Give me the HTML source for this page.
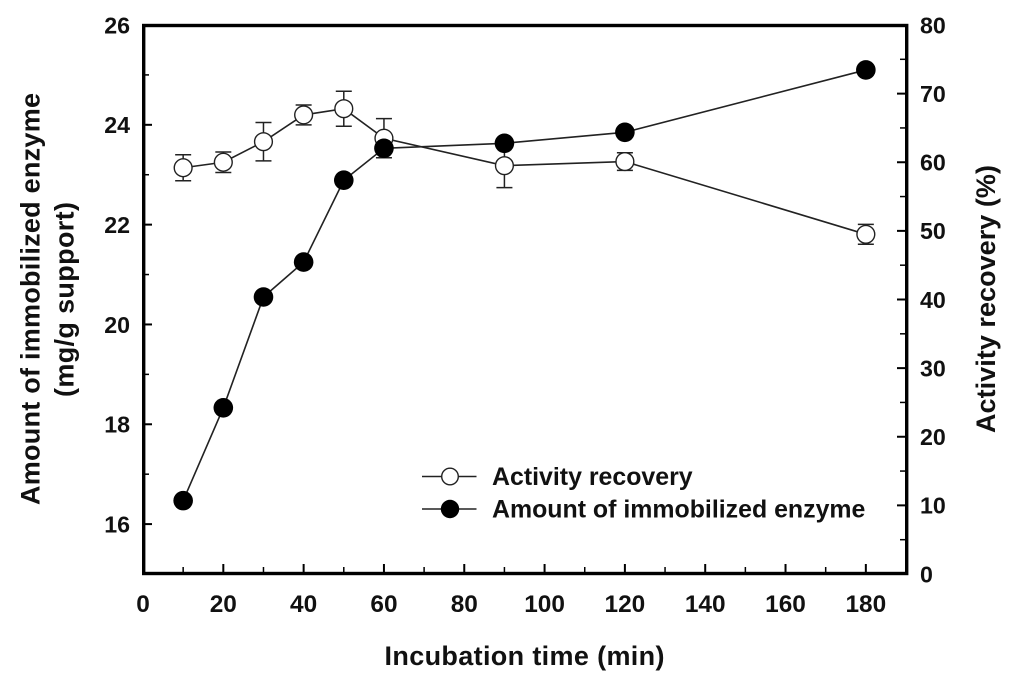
<!DOCTYPE html>
<html lang="en">
<head>
<meta charset="utf-8">
<title>Incubation time chart</title>
<style>
html,body{margin:0;padding:0;background:#fff;}
svg{display:block;filter:blur(0.35px);}
text{font-family:"Liberation Sans",Arial,sans-serif;font-weight:bold;fill:#111;}
</style>
</head>
<body>
<svg id="chart" xmlns="http://www.w3.org/2000/svg" width="1024" height="694" viewBox="0 0 1024 694"></svg>
<script>
const timePoints = [10, 20, 30, 40, 50, 60, 90, 120, 180];
const activityRecovery = [59.2, 60.0, 63.0, 66.9, 67.8, 63.5, 59.5, 60.1, 49.5];
const activityError = [1.9, 1.5, 2.8, 1.45, 2.55, 2.85, 3.2, 1.28, 1.45];
const immobilizedEnzyme = [16.47, 18.33, 20.55, 21.25, 22.89, 23.53, 23.63, 23.85, 25.1];
const xMajorTicks = [0, 20, 40, 60, 80, 100, 120, 140, 160, 180];
const xMinorTicks = [10, 30, 50, 70, 90, 110, 130, 150, 170];
const leftMajorTicks = [16, 18, 20, 22, 24, 26];
const leftMinorTicks = [17, 19, 21, 23, 25];
const rightMajorTicks = [0, 10, 20, 30, 40, 50, 60, 70, 80];
const rightMinorTicks = [5, 15, 25, 35, 45, 55, 65, 75];

const svg = document.getElementById('chart');
const NS = 'http://www.w3.org/2000/svg';
const plotLeft = 143, plotRight = 906, plotTop = 25, plotBottom = 574;
const xScale = v => plotLeft + (v / 190) * (plotRight - plotLeft);
const yLeft = v => plotBottom - ((v - 15) / 11) * (plotBottom - plotTop);
const yRight = v => plotBottom - (v / 80) * (plotBottom - plotTop);

function make(tag, attrs, parent) {
  const el = document.createElementNS(NS, tag);
  for (const k in attrs) el.setAttribute(k, attrs[k]);
  (parent || svg).appendChild(el);
  return el;
}
function group(name) {
  const g = make('g', {});
  
  
  return g;
}
function label(parent, x, y, str, anchor, size) {
  const t = make('text', {x: x, y: y, 'text-anchor': anchor, 'font-size': size}, parent);
  t.textContent = str;
  return t;
}

/* plot frame */
const frame = make('rect', {x: plotLeft + 0.7, y: plotTop + 0.5, width: plotRight - plotLeft, height: plotBottom - plotTop - 1, fill: 'none', stroke: '#000', 'stroke-width': 3.4});



/* x axis */
const xAxis = group('x-axis');
xMajorTicks.forEach(v => {
  make('line', {x1: xScale(v), x2: xScale(v), y1: plotBottom, y2: plotBottom - 10, stroke: '#000', 'stroke-width': 2}, xAxis);
  label(xAxis, xScale(v), 612, String(v), 'middle', 24.4);
});
xMinorTicks.forEach(v => {
  make('line', {x1: xScale(v), x2: xScale(v), y1: plotBottom, y2: plotBottom - 7, stroke: '#000', 'stroke-width': 1.5}, xAxis);
});

/* left axis */
const leftAxis = group('left-y-axis');
leftMajorTicks.forEach(v => {
  make('line', {x1: plotLeft, x2: plotLeft + 9, y1: yLeft(v), y2: yLeft(v), stroke: '#000', 'stroke-width': 2}, leftAxis);
  label(leftAxis, 130, yLeft(v) + 8.3, String(v), 'end', 23.2);
});
leftMinorTicks.forEach(v => {
  make('line', {x1: plotLeft, x2: plotLeft + 6, y1: yLeft(v), y2: yLeft(v), stroke: '#000', 'stroke-width': 1.5}, leftAxis);
});

/* right axis */
const rightAxis = group('right-y-axis');
rightMajorTicks.forEach(v => {
  make('line', {x1: plotRight, x2: plotRight - 9, y1: yRight(v), y2: yRight(v), stroke: '#000', 'stroke-width': 2}, rightAxis);
  label(rightAxis, 920, yRight(v) + 8.3, String(v), 'start', 23.2);
});
rightMinorTicks.forEach(v => {
  make('line', {x1: plotRight, x2: plotRight - 6, y1: yRight(v), y2: yRight(v), stroke: '#000', 'stroke-width': 1.5}, rightAxis);
});

/* activity series */
const actGroup = group('activity-recovery-series');
make('polyline', {points: timePoints.map((t, i) => xScale(t) + ',' + yRight(activityRecovery[i])).join(' '), fill: 'none', stroke: '#222', 'stroke-width': 1.6}, actGroup);
timePoints.forEach((t, i) => {
  const x = xScale(t), hi = yRight(activityRecovery[i] + activityError[i]), lo = yRight(activityRecovery[i] - activityError[i]);
  make('line', {x1: x, x2: x, y1: hi, y2: lo, stroke: '#222', 'stroke-width': 1.5}, actGroup);
  make('line', {x1: x - 8, x2: x + 8, y1: hi, y2: hi, stroke: '#222', 'stroke-width': 1.5}, actGroup);
  make('line', {x1: x - 8, x2: x + 8, y1: lo, y2: lo, stroke: '#222', 'stroke-width': 1.5}, actGroup);
  const pt = make('circle', {cx: x, cy: yRight(activityRecovery[i]), r: 8.9, fill: '#fff', stroke: '#222', 'stroke-width': 1.4}, actGroup);
  
  
});

/* enzyme series */
const enzGroup = group('immobilized-enzyme-series');
make('polyline', {points: timePoints.map((t, i) => xScale(t) + ',' + yLeft(immobilizedEnzyme[i])).join(' '), fill: 'none', stroke: '#222', 'stroke-width': 1.6}, enzGroup);
timePoints.forEach((t, i) => {
  const pt = make('circle', {cx: xScale(t), cy: yLeft(immobilizedEnzyme[i]), r: 9.8, fill: '#000'}, enzGroup);
  
  
});

/* axis titles */
const xTitle = label(svg, 524.5, 665, 'Incubation time (min)', 'middle', 27);
xTitle.setAttribute('textLength', '280');



const leftTitle1 = label(svg, 0, 0, 'Amount of immobilized enzyme', 'middle', 27);
leftTitle1.setAttribute('textLength', '412');
leftTitle1.setAttribute('transform', 'translate(39.5,299) rotate(-90)');



const leftTitle2 = label(svg, 0, 0, '(mg/g support)', 'middle', 27);
leftTitle2.setAttribute('textLength', '195');
leftTitle2.setAttribute('transform', 'translate(73.5,299.5) rotate(-90)');



const rightTitle = label(svg, 0, 0, 'Activity recovery (%)', 'middle', 27);
rightTitle.setAttribute('textLength', '268');
rightTitle.setAttribute('transform', 'translate(995,299) rotate(-90)');



/* legend */
const legend = group('legend');
const legendOne = make('g', {}, legend);


make('line', {x1: 422, x2: 476.5, y1: 476.5, y2: 476.5, stroke: '#222', 'stroke-width': 1.4}, legendOne);
make('circle', {cx: 450, cy: 476.5, r: 8.3, fill: '#fff', stroke: '#222', 'stroke-width': 1.4}, legendOne);
label(legendOne, 492, 485, 'Activity recovery', 'start', 24.9);

const legendTwo = make('g', {}, legend);


make('line', {x1: 422, x2: 476.5, y1: 509, y2: 509, stroke: '#222', 'stroke-width': 1.4}, legendTwo);
make('circle', {cx: 450, cy: 509, r: 9.2, fill: '#000'}, legendTwo);
label(legendTwo, 492, 517.5, 'Amount of immobilized enzyme', 'start', 24.9);
</script>
</body>
</html>
